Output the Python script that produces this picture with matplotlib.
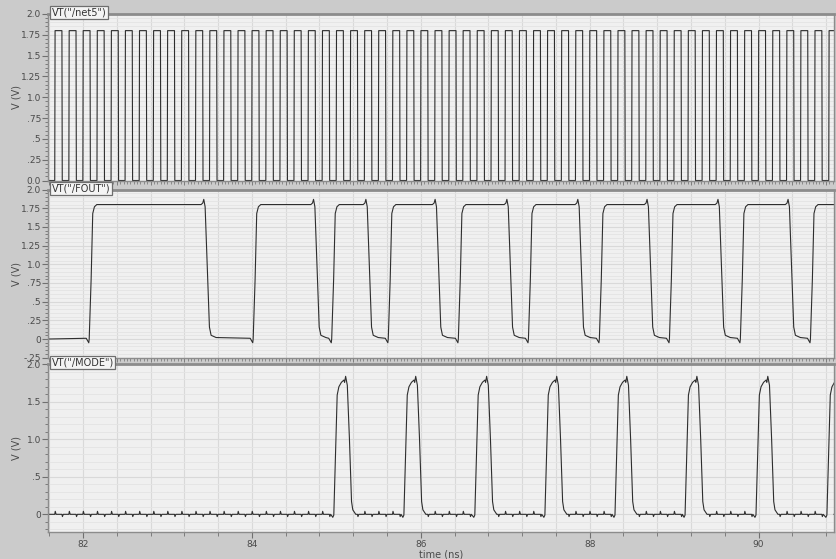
import matplotlib
matplotlib.use('Agg')
import matplotlib.pyplot as plt
from matplotlib.ticker import MultipleLocator, FixedLocator

plt.rcParams['font.family'] = 'DejaVu Sans'

# visible time window (ns)
t_start, t_stop = 81.585, 90.894

# net5: clock rising edges (ns), high time and level
net5_rise = [81.665, 81.832, 81.998, 82.165, 82.332, 82.498, 82.665, 82.832,
             82.998, 83.165, 83.332, 83.498, 83.665, 83.832, 83.998, 84.165,
             84.332, 84.498, 84.665, 84.832, 84.998, 85.165, 85.332, 85.498,
             85.665, 85.832, 85.998, 86.165, 86.332, 86.498, 86.665, 86.832,
             86.998, 87.165, 87.332, 87.498, 87.665, 87.832, 87.998, 88.165,
             88.332, 88.498, 88.665, 88.832, 88.998, 89.165, 89.332, 89.498,
             89.665, 89.832, 89.998, 90.165, 90.332, 90.498, 90.665, 90.832]
net5_high_ns = 0.085
net5_v = 1.80

# FOUT: start of each rising edge (undershoot) and top of each falling edge (overshoot)
fout_rise = [82.068, 84.01, 84.94, 85.61, 86.44, 87.27, 88.11, 88.94, 89.78, 90.61]
fout_fall = [83.43, 84.73, 85.35, 86.17, 87.02, 87.86, 88.68, 89.52, 90.35]
fout_rise_dt = [-0.03, 0.0, 0.005, 0.028, 0.047, 0.067, 0.095]
fout_rise_v = [0.01, -0.05, 0.0, 0.80, 1.68, 1.77, 1.80]
fout_fall_dt = [-0.032, -0.012, 0.0, 0.016, 0.04, 0.067, 0.087, 0.146]
fout_fall_v = [1.80, 1.82, 1.87, 1.77, 1.01, 0.16, 0.05, 0.02]

# MODE: start of each pulse and the pulse shape
mode_rise = [84.97, 85.80, 86.64, 87.47, 88.30, 89.13, 89.97, 90.81]
mode_dt = [-0.012, 0.0, 0.04, 0.06, 0.09, 0.12, 0.128, 0.14, 0.16, 0.185, 0.21, 0.225, 0.26]
mode_v = [-0.04, -0.01, 1.59, 1.70, 1.76, 1.79, 1.76, 1.84, 1.72, 1.01, 0.17, 0.06, 0.0]
# coupling bumps of net5 edges on MODE baseline
mode_bump_up, mode_bump_dn = 0.04, -0.03

x_ticks = [82, 84, 86, 88, 90]
net5_yticks = [0, .25, .5, .75, 1.0, 1.25, 1.5, 1.75, 2.0]
net5_ylabels = ['0.0', '.25', '.5', '.75', '1.0', '1.25', '1.5', '1.75', '2.0']
fout_yticks = [-.25, 0, .25, .5, .75, 1.0, 1.25, 1.5, 1.75, 2.0]
fout_ylabels = ['-.25', '0', '.25', '.5', '.75', '1.0', '1.25', '1.5', '1.75', '2.0']
mode_yticks = [0, .5, 1.0, 1.5, 2.0]
mode_ylabels = ['0', '.5', '1.0', '1.5', '2.0']


def net5_wave():
    t, v = [t_start], [0.0]
    for r in net5_rise:
        t += [r, r + 0.004, r + net5_high_ns, r + net5_high_ns + 0.004]
        v += [0.0, net5_v, net5_v, 0.0]
    return t, v


def fout_wave():
    ev = [(r, fout_rise_dt, fout_rise_v) for r in fout_rise]
    ev += [(f, fout_fall_dt, fout_fall_v) for f in fout_fall]
    ev.sort(key=lambda e: e[0])
    t, v = [t_start], [0.0]
    for t0, dts, vs in ev:
        t += [t0 + d for d in dts]
        v += list(vs)
    t.append(t_stop)
    v.append(v[-1])
    return t, v


def mode_wave():
    ev = [(r, mode_dt, mode_v) for r in mode_rise]
    busy = [(r + mode_dt[0] - 0.02, r + mode_dt[-1]) for r in mode_rise]
    for r in net5_rise:
        for te, a in ((r, mode_bump_up), (r + net5_high_ns, mode_bump_dn)):
            if not any(lo <= te <= hi for lo, hi in busy):
                ev.append((te, [0.0, 0.006, 0.016], [0.0, a, 0.0]))
    ev.sort(key=lambda e: e[0])
    t, v = [t_start], [0.0]
    for t0, dts, vs in ev:
        t += [t0 + d for d in dts]
        v += list(vs)
    t.append(t_stop)
    v.append(v[-1])
    return t, v


bg = '#cbcbcb'
fig = plt.figure(figsize=(8.36, 5.59), dpi=100, facecolor=bg)
left, width = 0.0574, 0.9402
ax1 = fig.add_axes([left, 0.6771, width, 0.2979])
ax2 = fig.add_axes([left, 0.3601, width, 0.3007])
ax3 = fig.add_axes([left, 0.0488, width, 0.2995])

panels = [
    (ax1, net5_wave(), 'VT("/net5")', (0, 2.0), net5_yticks, net5_ylabels, 0.05),
    (ax2, fout_wave(), 'VT("/FOUT")', (-0.25, 2.0), fout_yticks, fout_ylabels, 0.05),
    (ax3, mode_wave(), 'VT("/MODE")', (-0.232, 2.0), mode_yticks, mode_ylabels, 0.1),
]

for ax, (t, v), name, ylim, yt, yl, yminor in panels:
    ax.set_facecolor('#f0f0f0')
    ax.plot(t, v, color='#2e2e2e', lw=0.8)
    ax.set_xlim(t_start, t_stop)
    ax.set_ylim(*ylim)
    ax.yaxis.set_major_locator(FixedLocator(yt))
    ax.set_yticklabels(yl)
    ax.yaxis.set_minor_locator(MultipleLocator(yminor))
    ax.grid(which='major', color='#d9d9d9', lw=0.8)
    ax.grid(which='minor', axis='y', color='#e4e4e4', lw=0.6)
    ax.set_axisbelow(True)
    ax.tick_params(axis='y', which='major', direction='out', length=4, width=0.8,
                   color='#707070', labelsize=6.5, labelcolor='#4a4a4a', pad=1)
    ax.tick_params(axis='y', which='minor', direction='out', length=2, width=0.6,
                   color='#707070')
    ax.set_ylabel('V (V)', fontsize=7, color='#4a4a4a')
    ax.yaxis.set_label_coords(-0.034, 0.5)
    for s in ax.spines.values():
        s.set_color('#8c8c8c')
        s.set_linewidth(1.0)
    ax.spines['top'].set_linewidth(2.0)
    ax.annotate(name, xy=(0, 1), xycoords='axes fraction', xytext=(2.5, 1),
                textcoords='offset points', ha='left', va='center', fontsize=7,
                color='#333333', zorder=10, annotation_clip=False,
                bbox=dict(boxstyle='square,pad=0.15', fc='#f4f4f4', ec='#6e6e6e', lw=0.9))

for ax in (ax1, ax2):
    ax.xaxis.set_major_locator(MultipleLocator(0.4))
    ax.xaxis.set_minor_locator(MultipleLocator(0.04))
    ax.tick_params(axis='x', which='both', labelbottom=False, direction='out',
                   color='#707070')
    ax.tick_params(axis='x', which='major', length=3, width=0.6)
    ax.tick_params(axis='x', which='minor', length=2, width=0.5)

ax3.xaxis.set_major_locator(FixedLocator(x_ticks))
ax3.set_xticklabels([str(x) for x in x_ticks])
ax3.xaxis.set_minor_locator(MultipleLocator(0.4))
ax3.grid(which='minor', axis='x', color='#d9d9d9', lw=0.8)
ax3.tick_params(axis='x', which='major', direction='out', length=4, width=0.8,
                color='#707070', labelsize=6.5, labelcolor='#4a4a4a', pad=2)
ax3.tick_params(axis='x', which='minor', direction='out', length=3, width=0.6,
                color='#707070')
ax3.set_xlabel('time (ns)', fontsize=7, color='#4a4a4a', labelpad=0)

fig.savefig('out.png', dpi=100, facecolor=bg)
